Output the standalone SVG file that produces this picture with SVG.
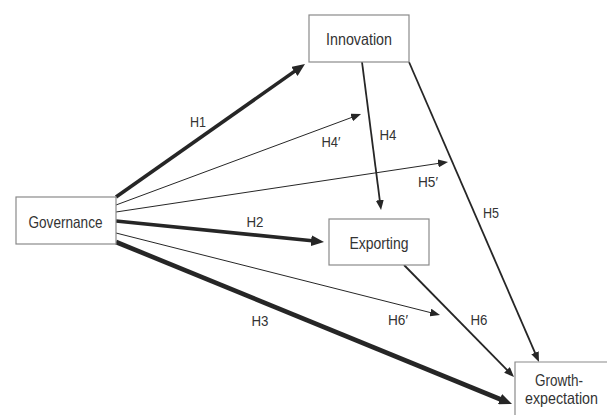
<svg xmlns="http://www.w3.org/2000/svg" width="607" height="415" viewBox="0 0 607 415">
<style>
.box{fill:#fff;stroke:#8a8a8a;stroke-width:1.2}
.nt{font-family:"Liberation Sans",Arial,sans-serif;font-size:16.5px;fill:#333;text-anchor:middle}
.lb{font-family:"Liberation Sans",Arial,sans-serif;font-size:14px;fill:#333;text-anchor:middle}
.c{stroke:#262626;fill:none}
.thin{stroke-width:1}
.med{stroke-width:1.8}
.thick{stroke-width:3.6}
.heavy{stroke-width:4.6}
</style>
<defs>
<marker id="big" markerUnits="userSpaceOnUse" markerWidth="13" markerHeight="11" refX="1" refY="5.5" orient="auto">
<path d="M0,0 L13,5.5 L0,11 z" fill="#262626"/>
</marker>
<marker id="sm" markerUnits="userSpaceOnUse" markerWidth="10" markerHeight="8" refX="1" refY="4" orient="auto">
<path d="M0,0 L10,4 L0,8 z" fill="#262626"/>
</marker>
</defs>
<rect width="607" height="415" fill="#fff"/>
<g id="connectors">
<line class="c thick" x1="116" y1="197" x2="295.2" y2="70.9" marker-end="url(#big)"/>
<line class="c thin" x1="116" y1="205" x2="352.6" y2="117.1" marker-end="url(#sm)"/>
<line class="c thin" x1="116" y1="212" x2="439.1" y2="163.3" marker-end="url(#sm)"/>
<line class="c thick" x1="116" y1="221" x2="312.1" y2="240.8" marker-end="url(#big)"/>
<line class="c thin" x1="116" y1="233" x2="431.3" y2="312.8" marker-end="url(#sm)"/>
<line class="c heavy" x1="116" y1="242" x2="500.9" y2="399.5" marker-end="url(#big)"/>
<line class="c med" x1="362" y1="62" x2="379.9" y2="201.1" marker-end="url(#sm)"/>
<line class="c med" x1="409" y1="62" x2="535.4" y2="353.7" marker-end="url(#sm)"/>
<line class="c med" x1="404" y1="265" x2="507.7" y2="370.6" marker-end="url(#sm)"/>
</g>
<g id="labels">
<text class="lb" x="198" y="127" textLength="16" lengthAdjust="spacingAndGlyphs">H1</text>
<text class="lb" x="331" y="147" textLength="19" lengthAdjust="spacingAndGlyphs">H4′</text>
<text class="lb" x="388" y="140" textLength="17" lengthAdjust="spacingAndGlyphs">H4</text>
<text class="lb" x="428" y="187" textLength="20" lengthAdjust="spacingAndGlyphs">H5′</text>
<text class="lb" x="491" y="218" textLength="16" lengthAdjust="spacingAndGlyphs">H5</text>
<text class="lb" x="255" y="227" textLength="17" lengthAdjust="spacingAndGlyphs">H2</text>
<text class="lb" x="398" y="325" textLength="20" lengthAdjust="spacingAndGlyphs">H6′</text>
<text class="lb" x="479" y="325" textLength="17" lengthAdjust="spacingAndGlyphs">H6</text>
<text class="lb" x="260" y="326" textLength="17" lengthAdjust="spacingAndGlyphs">H3</text>
</g>
<g id="governance">
<rect class="box" x="16" y="197" width="100" height="47"/>
<text class="nt" x="65.5" y="228" textLength="74" lengthAdjust="spacingAndGlyphs">Governance</text>
</g>
<g id="innovation">
<rect class="box" x="309" y="15" width="100" height="47"/>
<text class="nt" x="359" y="44.5" textLength="66" lengthAdjust="spacingAndGlyphs">Innovation</text>
</g>
<g id="exporting">
<rect class="box" x="329" y="219" width="100" height="46"/>
<text class="nt" x="379" y="248.5" textLength="59" lengthAdjust="spacingAndGlyphs">Exporting</text>
</g>
<g id="growth">
<path class="box" d="M515,415 V362 H607"/>
<text class="nt" x="559" y="386" font-size="16" textLength="48" lengthAdjust="spacingAndGlyphs">Growth-</text>
<text class="nt" x="561.5" y="404" font-size="16" textLength="73" lengthAdjust="spacingAndGlyphs">expectation</text>
</g>
</svg>
